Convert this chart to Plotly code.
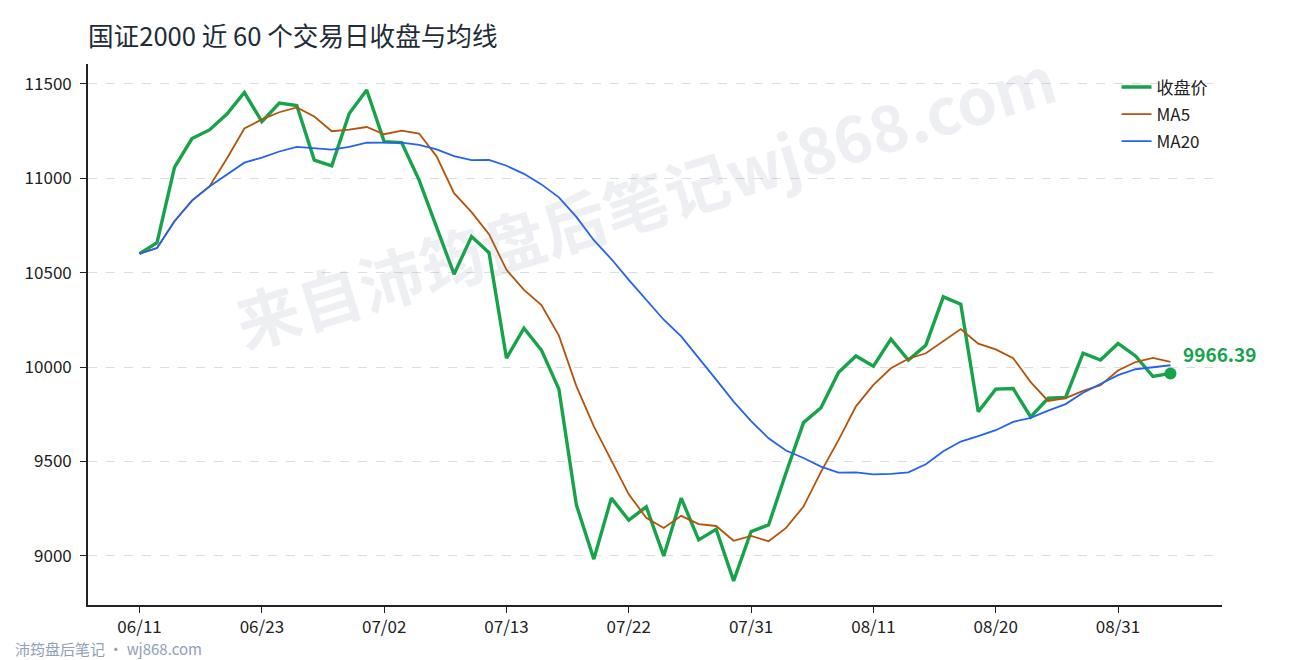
import plotly.graph_objects as go

dates = ["06/11", "06/12", "06/13", "06/16", "06/17", "06/18", "06/20", "06/23",
         "06/24", "06/25", "06/26", "06/27", "06/30", "07/01", "07/02",
         "07/03", "07/04", "07/07", "07/08", "07/09", "07/11", "07/13",
         "07/14", "07/15", "07/16", "07/17", "07/18", "07/21", "07/22",
         "07/23", "07/24", "07/25", "07/28", "07/29", "07/30", "07/31",
         "08/01", "08/04", "08/05", "08/06", "08/07", "08/08", "08/11",
         "08/12", "08/13", "08/14", "08/15", "08/18", "08/19", "08/20",
         "08/21", "08/22", "08/25", "08/26", "08/27", "08/28", "08/31",
         "09/01", "09/02", "09/03"]

close = [10601, 10659, 11057, 11210, 11256, 11340, 11454, 11300, 11398, 11385,
         11096, 11066, 11343, 11467, 11194, 11189, 10990, 10740, 10492, 10691,
         10606, 10047, 10206, 10090, 9883, 9270, 8983, 9306, 9189, 9260,
         9000, 9306, 9085, 9141, 8868, 9129, 9164, 9440, 9706, 9785,
         9971, 10059, 10005, 10148, 10037, 10116, 10372, 10333, 9763, 9883,
         9886, 9736, 9835, 9839, 10074, 10037, 10125, 10059, 9950, 9966.39]

ma5 = [10601, 10630, 10772.3, 10881.8, 10956.6, 11104.4, 11263.4, 11312.0, 11349.6, 11375.4,
       11326.6, 11249.0, 11257.6, 11271.4, 11233.2, 11251.8, 11236.6, 11116.0, 10921.0, 10820.4,
       10703.8, 10515.2, 10408.4, 10328.0, 10166.4, 9899.2, 9686.4, 9506.4, 9326.2, 9201.6,
       9147.6, 9212.2, 9168.0, 9158.4, 9080.0, 9105.8, 9077.4, 9148.4, 9261.4, 9444.8,
       9613.2, 9792.2, 9905.2, 9993.6, 10044.0, 10073.0, 10135.6, 10201.2, 10124.2, 10093.4,
       10047.4, 9920.2, 9820.6, 9835.8, 9874.0, 9904.2, 9982.0, 10026.8, 10049.0, 10027.5]

ma20 = [10601, 10630, 10772.3, 10881.8, 10956.6, 11020.5, 11082.4, 11109.6, 11141.7, 11166.0,
        11159.6, 11151.8, 11166.5, 11188.0, 11188.4, 11188.4, 11176.8, 11152.5, 11117.7, 11096.4,
        11096.7, 11066.1, 11023.5, 10967.5, 10898.9, 10795.4, 10671.8, 10572.1, 10461.7, 10355.4,
        10250.6, 10162.6, 10049.7, 9933.4, 9817.1, 9714.1, 9622.8, 9557.8, 9518.5, 9473.2,
        9441.5, 9442.1, 9432.0, 9434.9, 9442.6, 9484.9, 9554.4, 9605.7, 9634.4, 9665.6,
        9709.9, 9731.4, 9768.9, 9803.8, 9864.1, 9909.5, 9957.5, 9988.5, 10000.7, 10009.7]

y_ticks = [9000, 9500, 10000, 10500, 11000, 11500]
x_tick_idx = list(range(0, 60, 7))

GREEN = "#16a34a"
ORANGE = "#b45309"
BLUE = "#2563eb"
FONT = "Noto Sans CJK SC"

fig = go.Figure()
fig.add_trace(go.Scatter(x=dates, y=close, mode="lines", name="收盘价", legendgroup="a",
                         line=dict(color=GREEN, width=3.4)))
fig.add_trace(go.Scatter(x=dates, y=ma5, mode="lines", name="MA5", legendgroup="b",
                         line=dict(color=ORANGE, width=1.8)))
fig.add_trace(go.Scatter(x=dates, y=ma20, mode="lines", name="MA20", legendgroup="c",
                         line=dict(color=BLUE, width=1.8)))
fig.add_trace(go.Scatter(x=[dates[-1]], y=[close[-1]], mode="markers", showlegend=False,
                         marker=dict(color=GREEN, size=12), hoverinfo="skip"))

fig.add_annotation(x=dates[-1], y=close[-1], text=f"<b>{close[-1]:.2f}</b>",
                   showarrow=False, xanchor="left", yanchor="middle",
                   xshift=11, yshift=20, font=dict(color=GREEN, size=19, family=FONT))

# watermark
fig.add_annotation(xref="paper", yref="paper", x=0.491, y=0.752,
                   xanchor="center", yanchor="middle",
                   text="<b>来自沛筠盘后笔记wj868.com</b>", showarrow=False,
                   textangle=-17, font=dict(size=64, color="rgba(120,130,165,0.13)", family=FONT))

# footer
fig.add_annotation(xref="paper", yref="paper", x=-0.0661, y=-0.0795,
                   text="沛筠盘后笔记 · wj868.com", showarrow=False,
                   xanchor="left", yanchor="middle",
                   font=dict(size=15, color="#8fa0bb", family=FONT))

W, H = 1282, 652
fig.update_layout(
    width=W, height=H,
    margin=dict(l=80, r=68, t=56, b=55),
    paper_bgcolor="white", plot_bgcolor="white",
    font=dict(family=FONT, color="#222222", size=15),
    title=dict(text="国证2000 近 60 个交易日收盘与均线", x=80 / W, xanchor="left",
               y=1 - 29 / H, yanchor="middle", xref="container", yref="container",
               font=dict(size=25.6, color="#222b38", family=FONT)),
    showlegend=True,
    legend=dict(x=0.907, y=0.99, xanchor="left", yanchor="top",
                bgcolor="rgba(0,0,0,0)", font=dict(size=17, color="#222222", family=FONT),
                itemwidth=30, tracegroupgap=2),
    xaxis=dict(type="category", range=[-2.95, 61.95],
               tickmode="array", tickvals=[dates[i] for i in x_tick_idx],
               ticktext=[dates[i] for i in x_tick_idx],
               showgrid=False, zeroline=False, showline=True, linecolor="#222222", linewidth=1.6,
               ticks="outside", ticklen=6, tickcolor="#222222", tickwidth=1.4,
               tickfont=dict(size=17, color="#222222", family=FONT)),
    yaxis=dict(range=[8740, 11605], tickmode="array", tickvals=y_ticks,
               ticktext=[str(v) for v in y_ticks],
               showgrid=True, gridcolor="#dddddd", griddash="dash", gridwidth=1,
               zeroline=False, showline=True, linecolor="#222222", linewidth=1.6,
               ticks="outside", ticklen=6, tickcolor="#222222", tickwidth=1.4,
               ticklabelstandoff=5,
               tickfont=dict(size=17, color="#222222", family=FONT)),
)

fig.write_html("out.html")
